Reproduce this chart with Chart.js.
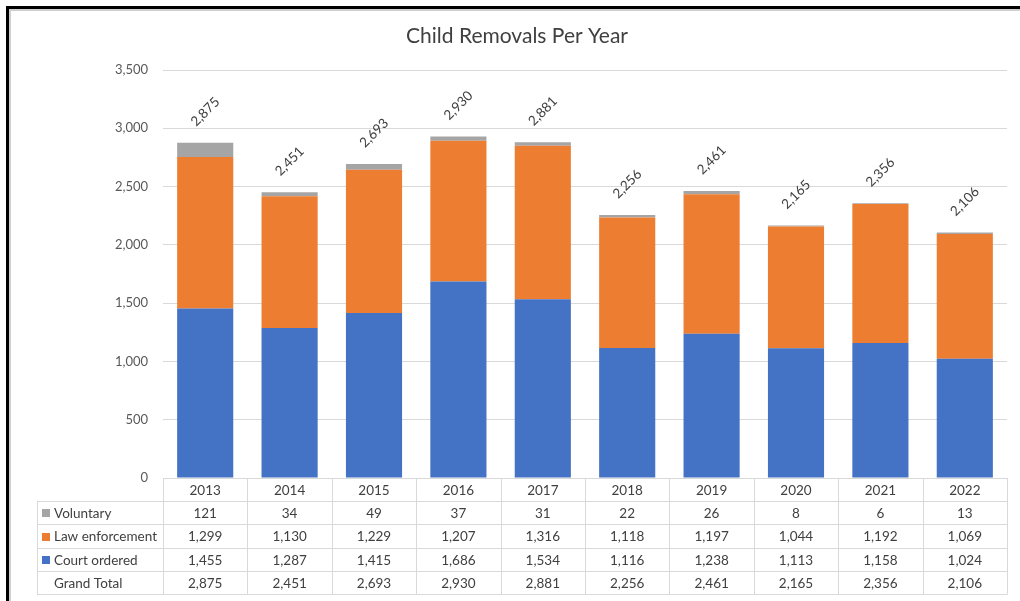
<!DOCTYPE html>
<html>
<head>
<meta charset="utf-8">
<script src="https://cdn.jsdelivr.net/npm/chart.js@4"></script>
<style>
html,body{margin:0;padding:0;background:#fff;}
#wrap{width:1020px;height:601px;position:relative;}
</style>
</head>
<body>
<div id="wrap"><canvas id="c" width="1020" height="601"></canvas></div>
<script>
const years = ['2013','2014','2015','2016','2017','2018','2019','2020','2021','2022'];
const voluntary = [121,34,49,37,31,22,26,8,6,13];
const lawEnforcement = [1299,1130,1229,1207,1316,1118,1197,1044,1192,1069];
const courtOrdered = [1455,1287,1415,1686,1534,1116,1238,1113,1158,1024];
const grandTotal = [2875,2451,2693,2930,2881,2256,2461,2165,2356,2106];
const yMax = 3500;
const yStep = 500;
const chartTitle = 'Child Removals Per Year';

const FONT = 'Lato, "Open Sans", sans-serif';
const colors = {court:'#4472C4', law:'#ED7D31', vol:'#A5A5A5'};
const fmt = v => v.toLocaleString('en-US');

const framePlugin = {
  id:'frame',
  beforeDraw(chart){
    const ctx = chart.ctx;
    ctx.save();
    ctx.fillStyle = '#fff';
    ctx.fillRect(0,0,chart.width,chart.height);
    ctx.font = '21px ' + FONT;
    ctx.fillStyle = '#404040';
    ctx.textAlign = 'center';
    ctx.textBaseline = 'middle';
    ctx.fillText(chartTitle, 517, 36);
    ctx.restore();
  },
  afterDraw(chart){
    const ctx = chart.ctx;
    ctx.save();
    ctx.fillStyle = '#d0d0d0';
    ctx.fillRect(9,9,1011,2);
    ctx.fillRect(9,9,2,592);
    ctx.fillStyle = '#000';
    ctx.fillRect(6,6,1014,3);
    ctx.fillRect(6,6,3,595);
    ctx.restore();
  }
};

const labelPlugin = {
  id:'totals',
  afterDatasetsDraw(chart){
    const ctx = chart.ctx;
    const xs = chart.scales.x, ys = chart.scales.y;
    ctx.save();
    ctx.font = '13.5px ' + FONT;
    ctx.fillStyle = '#404040';
    ctx.textAlign = 'center';
    ctx.textBaseline = 'middle';
    grandTotal.forEach((t,i)=>{
      const x = xs.getPixelForValue(i);
      const y = ys.getPixelForValue(t) - 31;
      ctx.save();
      ctx.translate(x,y);
      ctx.rotate(-Math.PI/4);
      ctx.fillText(fmt(t),0,0);
      ctx.restore();
    });
    ctx.restore();
  }
};

const tablePlugin = {
  id:'datatable',
  afterDraw(chart){
    const ctx = chart.ctx;
    const area = chart.chartArea;
    const n = years.length;
    const colW = (area.right - area.left)/n;
    const leftX = 37;
    const rowH = 23.2;
    const top = area.bottom;
    const rows = [
      {name:'Voluntary', color:colors.vol, vals:voluntary},
      {name:'Law enforcement', color:colors.law, vals:lawEnforcement},
      {name:'Court ordered', color:colors.court, vals:courtOrdered},
      {name:'Grand Total', color:null, vals:grandTotal}
    ];
    const bottom = top + rowH*5;
    ctx.save();
    ctx.strokeStyle = '#D9D9D9';
    ctx.lineWidth = 1;
    ctx.beginPath();
    ctx.moveTo(area.left, Math.round(top)+0.5); ctx.lineTo(area.right, Math.round(top)+0.5);
    for(let r=1;r<=5;r++){
      const y = Math.round(top + r*rowH)+0.5;
      ctx.moveTo(leftX, y); ctx.lineTo(area.right, y);
    }
    for(let c=0;c<=n;c++){
      const x = Math.round(area.left + c*colW)+0.5;
      ctx.moveTo(x, Math.round(top)); ctx.lineTo(x, Math.round(bottom)+0.5);
    }
    ctx.moveTo(leftX+0.5, Math.round(top+rowH)); ctx.lineTo(leftX+0.5, Math.round(bottom)+0.5);
    ctx.stroke();

    ctx.font = '13.5px ' + FONT;
    ctx.fillStyle = '#404040';
    ctx.textBaseline = 'middle';
    ctx.textAlign = 'center';
    years.forEach((yr,i)=>{
      ctx.fillText(yr, area.left + (i+0.5)*colW, top + rowH*0.5 + 1);
    });
    rows.forEach((row,r)=>{
      const cy = top + rowH*(r+1.5) + 1;
      ctx.textAlign = 'left';
      if(row.color){
        ctx.fillStyle = row.color;
        ctx.fillRect(42, Math.round(cy-4.5), 8, 8);
      }
      ctx.fillStyle = '#404040';
      ctx.fillText(row.name, 54, cy);
      ctx.textAlign = 'center';
      row.vals.forEach((v,i)=>{
        ctx.fillText(fmt(v), area.left + (i+0.5)*colW, cy);
      });
    });
    ctx.restore();
  }
};

new Chart(document.getElementById('c'), {
  type:'bar',
  data:{
    labels: years,
    datasets:[
      {label:'Court ordered', data:courtOrdered, backgroundColor:colors.court},
      {label:'Law enforcement', data:lawEnforcement, backgroundColor:colors.law},
      {label:'Voluntary', data:voluntary, backgroundColor:colors.vol}
    ]
  },
  options:{
    responsive:false,
    animation:false,
    devicePixelRatio:1,
    locale:'en-US',
    layout:{padding:{left:0,right:13,top:70,bottom:123}},
    datasets:{bar:{barPercentage:0.665, categoryPercentage:1, borderWidth:0}},
    plugins:{
      legend:{display:false},
      tooltip:{enabled:false},
      title:{display:false}
    },
    scales:{
      x:{stacked:true, display:false},
      y:{stacked:true, min:0, max:yMax,
        border:{display:false},
        grid:{color:'#D9D9D9', drawTicks:false, lineWidth:1},
        afterFit(s){ s.width = 163; },
        ticks:{stepSize:yStep, padding:15, color:'#595959', font:{family:FONT, size:13},
          callback:v=>fmt(v)}
      }
    }
  },
  plugins:[framePlugin, labelPlugin, tablePlugin]
});
</script>
</body>
</html>
